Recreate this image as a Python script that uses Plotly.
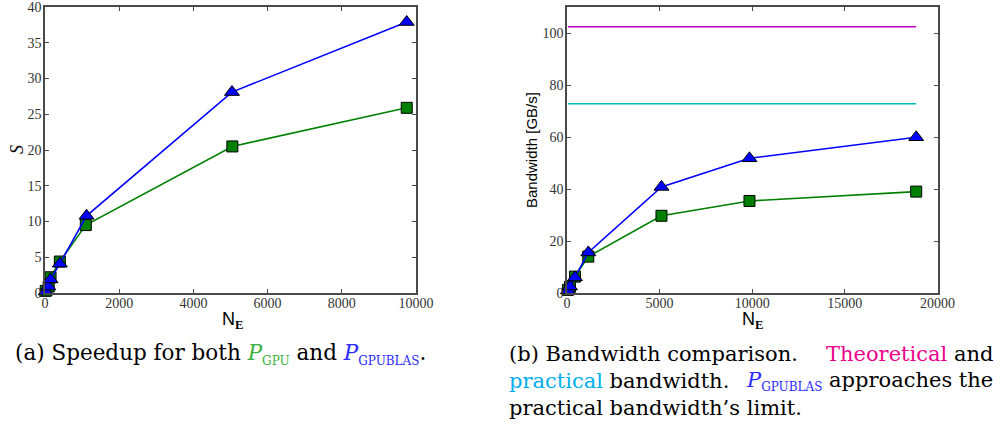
import plotly.graph_objects as go

# ---- data: (a) speedup ----
ne_a = [20, 100, 150, 400, 1100, 5050, 9750]
s_gpu = [0.3, 0.9, 2.2, 4.4, 9.5, 20.5, 25.9]
ne_a_blas = [20, 90, 150, 400, 1120, 5040, 9750]
s_gpublas = [0.2, 0.9, 1.9, 4.1, 10.8, 28.1, 37.9]

# ---- data: (b) bandwidth ----
ne_b = [50, 160, 430, 1150, 5100, 9850, 18850]
bw_gpu = [1.2, 2.4, 6.3, 14.0, 29.7, 35.4, 39.0]
bw_gpublas = [1.0, 2.5, 6.0, 15.6, 40.8, 51.8, 59.9]
bw_theoretical = 102.4
bw_practical = 72.8

GREEN = "#008000"
BLUE = "#0000ff"
MAG = "#bf00bf"
CYAN = "#00bfbf"
SPINE = "#4a4a4a"
TICKFONT = dict(family="Liberation Serif", size=14, color="#333333")

fig = go.Figure()

def add_series(x, y, color, symbol, size, xa, ya):
    fig.add_trace(go.Scatter(
        x=x, y=y, mode="lines+markers", xaxis=xa, yaxis=ya,
        line=dict(color=color, width=1.6),
        marker=dict(symbol=symbol, size=size, color=color,
                    line=dict(color="black", width=1)),
        showlegend=False, hoverinfo="skip", cliponaxis=False))

add_series(ne_a, s_gpu, GREEN, "square", 11, "x", "y")
add_series(ne_a_blas, s_gpublas, BLUE, "triangle-up", 13, "x", "y")

fig.add_trace(go.Scatter(x=[ne_b[0], ne_b[-1]], y=[bw_theoretical] * 2, mode="lines",
                         xaxis="x2", yaxis="y2", line=dict(color=MAG, width=1.6),
                         showlegend=False, hoverinfo="skip"))
fig.add_trace(go.Scatter(x=[ne_b[0], ne_b[-1]], y=[bw_practical] * 2, mode="lines",
                         xaxis="x2", yaxis="y2", line=dict(color=CYAN, width=1.6),
                         showlegend=False, hoverinfo="skip"))
add_series(ne_b, bw_gpu, GREEN, "square", 11, "x2", "y2")
add_series(ne_b, bw_gpublas, BLUE, "triangle-up", 13, "x2", "y2")

ydom = [(427 - 293) / 427, (427 - 7) / 427]

def axis(domain, rng, dtick, anchor, standoff):
    return dict(domain=domain, range=rng, dtick=dtick, tick0=0, anchor=anchor,
                showgrid=False, zeroline=False, showline=True, linecolor=SPINE,
                linewidth=1.5, mirror="ticks", ticks="inside", ticklen=4,
                tickcolor=SPINE, tickwidth=1, tickfont=TICKFONT,
                tickformat="d", automargin=False, ticklabeloverflow="allow",
                ticklabelstandoff=standoff)

fig.update_layout(
    width=1000, height=427, margin=dict(l=0, r=0, t=0, b=0),
    paper_bgcolor="white", plot_bgcolor="white",
    xaxis=axis([45 / 1000, 416 / 1000], [0, 10000.01], 2000, "y", -4),
    yaxis=axis(ydom, [0, 40.0001], 5, "x", -1),
    xaxis2=axis([567 / 1000, 937.5 / 1000], [0, 20000.01], 5000, "y2", -4),
    yaxis2=axis(ydom, [0, 110], 20, "x2", -1),
)

ann = []
def text(x, y, t, size, family="DejaVu Serif", color="black", xanchor="left",
         yanchor="middle", angle=0):
    ann.append(dict(x=x / 1000, y=1 - y / 427, xref="paper", yref="paper", text=t,
                    showarrow=False, xanchor=xanchor, yanchor=yanchor, textangle=angle,
                    font=dict(family=family, size=size, color=color)))

ne_title = "N<sub><span style='font-family:Liberation Serif;font-weight:bold'>E</span></sub>"
text(232, 320, ne_title, 18, family="Liberation Sans", xanchor="center")
text(752, 320, ne_title, 18, family="Liberation Sans", xanchor="center")
text(17, 150, "<i>S</i>", 18, family="Liberation Serif", xanchor="center", angle=-90)
text(532, 150, "Bandwidth [GB/s]", 15, family="Liberation Sans", xanchor="center", angle=-90)

CG = "#3cb043"
CB = "#2b2bff"
CM = "#ec008c"
CC = "#00aeef"
def P(sub, col):
    return (f"<span style='color:{col}'><i>P</i><sub><span style='font-size:12px'>{sub}</span></sub></span>")

CAP = 21
text(13, 354, f"(a) Speedup for both {P('GPU', CG)} and {P('GPUBLAS', CB)}.", 21.5)
text(507, 354, "(b) Bandwidth comparison.", CAP)
text(995, 354, f"<span style='color:{CM}'>Theoretical</span> and", CAP, xanchor="right")
text(507, 381, f"<span style='color:{CC}'>practical</span> bandwidth.", CAP)
text(995, 381, f"{P('GPUBLAS', CB)} approaches the", CAP, xanchor="right")
text(507, 408, "practical bandwidth\u2019s limit.", CAP)

fig.update_layout(annotations=ann)
fig.write_html("out.html", config={"displayModeBar": False},
               post_script="document.body.style.margin='0';")
